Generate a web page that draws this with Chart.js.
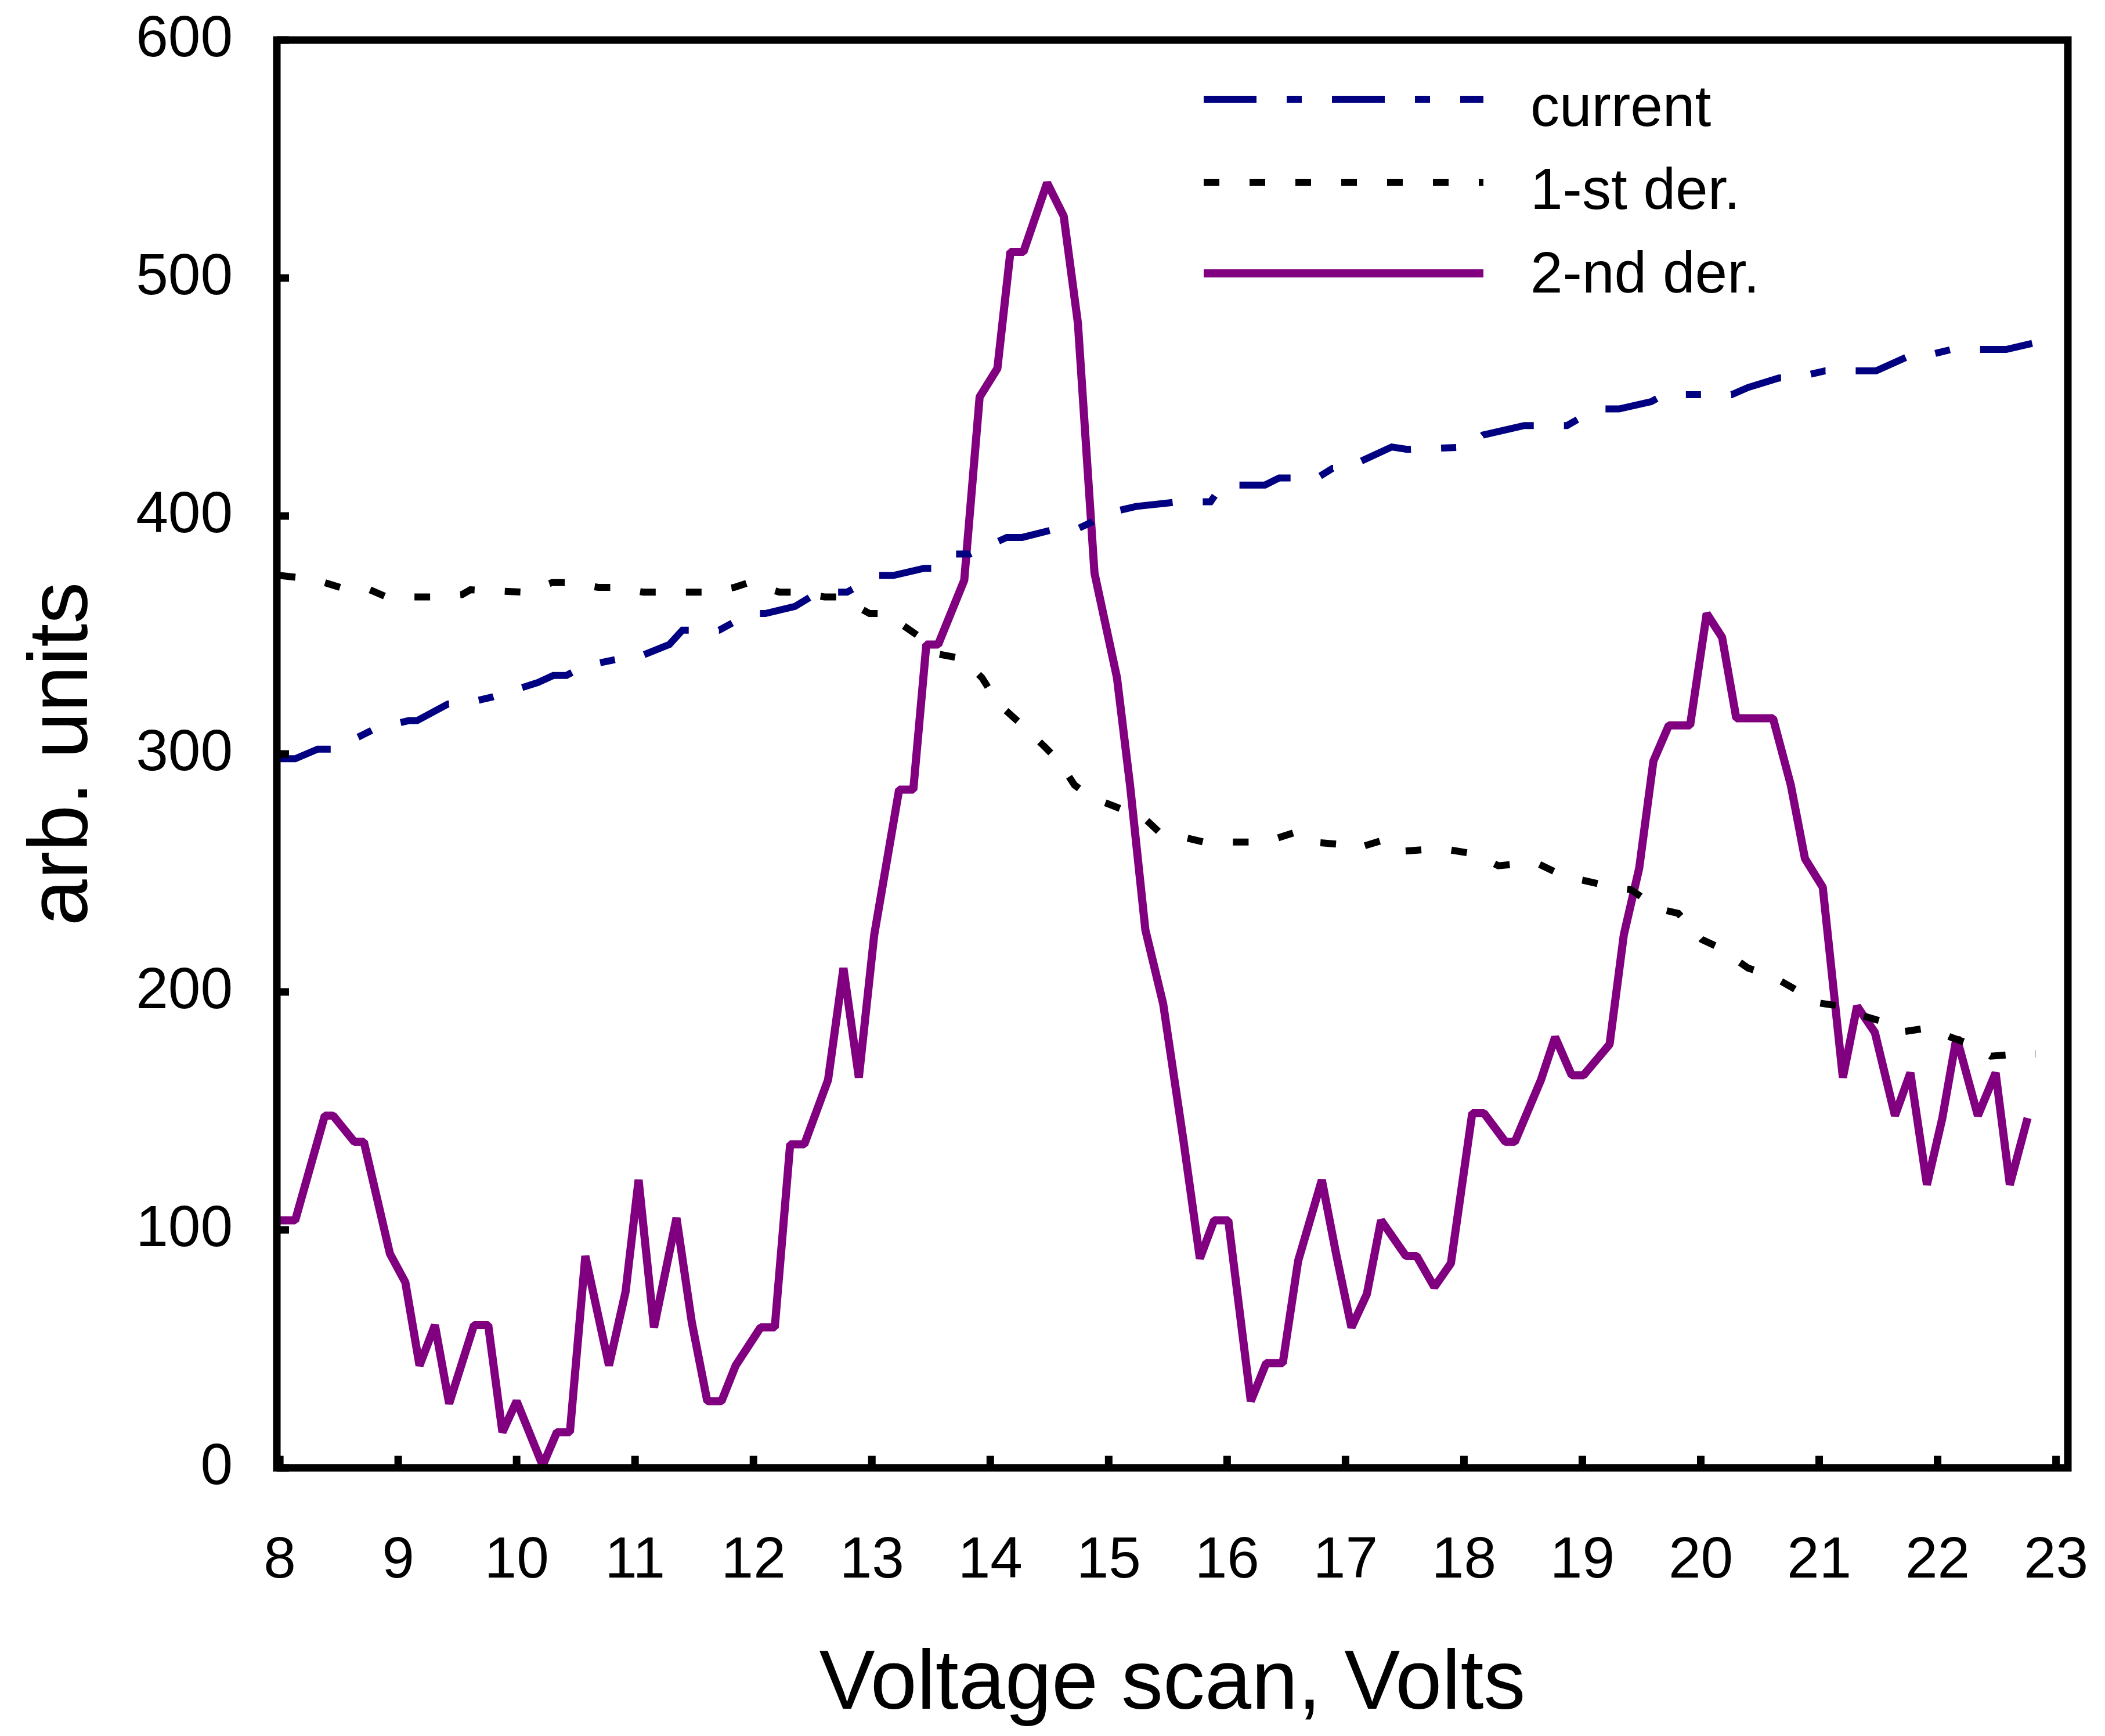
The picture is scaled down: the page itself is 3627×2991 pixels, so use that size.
<!DOCTYPE html>
<html lang="en">
<head>
<meta charset="utf-8">
<title>voltage scan</title>
<style>
  body { margin: 0; background: #fff; }
  canvas { display: block; }
</style>
</head>
<body>
<canvas id="scan" width="3627" height="2991"></canvas>
<script src="https://cdn.jsdelivr.net/npm/chart.js"></script>
<script>
// current
const currentV = [8.00, 8.13, 8.32, 8.45, 8.70, 8.82, 9.09, 9.16, 9.42, 9.54, 9.80, 10.18, 10.31, 10.42,
  10.57, 10.87, 10.99, 11.29, 11.40, 11.71, 11.97, 12.10, 12.35, 12.55, 12.79, 13.05, 13.18, 13.44,
  13.56, 13.70, 13.83, 14.14, 14.27, 14.51, 14.71, 14.84, 14.97, 15.23, 15.60, 15.86, 15.96, 16.32,
  16.44, 16.76, 16.89, 17.02, 17.13, 17.39, 17.52, 18.04, 18.16, 18.51, 18.87, 19.01, 19.19, 19.31,
  19.58, 19.69, 20.26, 20.40, 20.66, 20.79, 21.05, 21.48, 21.75, 21.87, 22.12, 22.58, 22.84, 22.96];
const currentY = [298, 298, 302, 302, 308, 311, 314, 314, 321, 321, 324, 330, 333, 333,
  337, 340, 340, 346, 352, 352, 359, 359, 362, 368, 368, 375, 375, 378,
  378, 384, 384, 391, 391, 394, 394, 397, 401, 404, 406, 406, 413, 413,
  416, 416, 420, 420, 423, 429, 428, 429, 434, 438, 438, 442, 445, 445,
  448, 451, 451, 454, 458, 458, 461, 461, 467, 467, 470, 470, 473, 473];

// 1-st derivative
const der1V = [8.00, 8.18, 8.38, 8.51, 8.76, 8.90, 9.28, 9.54, 9.61, 10.05, 10.30, 10.43, 10.69, 10.82,
  11.07, 11.58, 11.84, 11.96, 12.22, 12.35, 12.60, 12.73, 12.98, 13.12, 13.38, 13.56, 13.77, 13.93,
  14.07, 14.25, 14.46, 14.58, 14.71, 14.84, 15.10, 15.28, 15.43, 15.55, 15.80, 16.32, 16.57, 16.70,
  16.96, 17.07, 17.33, 17.46, 17.72, 17.84, 18.09, 18.29, 18.49, 18.62, 18.87, 19.00, 19.26, 19.41,
  19.64, 19.81, 20.01, 20.14, 20.40, 20.59, 20.80, 20.91, 21.18, 21.30, 21.57, 21.67, 21.94, 22.11,
  22.33, 22.45, 22.70, 22.83];
const der1Y = [375, 374, 372, 370, 369, 366, 366, 367, 369, 368, 372, 372, 370, 370,
  368, 368, 370, 372, 368, 368, 366, 366, 359, 359, 350, 342, 340, 332,
  321, 313, 303, 297, 287, 282, 277, 274, 267, 266, 263, 263, 267, 263,
  262, 260, 264, 259, 260, 260, 258, 253, 254, 254, 248, 247, 244, 243,
  235, 233, 222, 219, 210, 207, 201, 196, 194, 191, 187, 183, 185, 181,
  177, 173, 174, 174];

// 2-nd derivative
const der2V = [8.00, 8.13, 8.38, 8.45, 8.63, 8.71, 8.93, 9.06, 9.18, 9.31, 9.43, 9.64, 9.76, 9.88,
  10.00, 10.22, 10.34, 10.45, 10.58, 10.78, 10.92, 11.03, 11.16, 11.35, 11.48, 11.61, 11.73, 11.85,
  12.06, 12.18, 12.31, 12.43, 12.63, 12.76, 12.89, 13.02, 13.23, 13.35, 13.46, 13.56, 13.78, 13.91,
  14.06, 14.17, 14.28, 14.48, 14.62, 14.74, 14.88, 15.07, 15.18, 15.31, 15.46, 15.63, 15.77, 15.89,
  16.01, 16.20, 16.33, 16.47, 16.60, 16.80, 16.92, 17.05, 17.18, 17.30, 17.51, 17.60, 17.75, 17.89,
  18.07, 18.17, 18.35, 18.43, 18.65, 18.77, 18.91, 19.01, 19.23, 19.35, 19.48, 19.60, 19.73, 19.91,
  20.05, 20.18, 20.30, 20.45, 20.61, 20.76, 20.88, 21.03, 21.20, 21.32, 21.47, 21.64, 21.77, 21.91,
  22.04, 22.16, 22.34, 22.49, 22.61, 22.76];
const der2Y = [104, 104, 148, 148, 137, 137, 90, 78, 43, 60, 27, 60, 60, 15,
  28, 1, 15, 15, 89, 43, 74, 121, 59, 105, 61, 28, 28, 43,
  59, 59, 136, 136, 163, 210, 164, 224, 285, 285, 346, 346, 373, 450,
  462, 511, 511, 540, 526, 481, 376, 332, 287, 226, 195, 138, 88, 104,
  104, 28, 44, 44, 87, 121, 90, 59, 73, 104, 89, 89, 76, 86,
  149, 149, 137, 137, 163, 181, 165, 165, 178, 224, 252, 297, 312, 312,
  359, 349, 315, 315, 315, 287, 256, 244, 164, 194, 183, 148, 166, 119,
  147, 181, 148, 166, 119, 147];

const seriesNames = ['current', '1-st der.', '2-nd der.'];
const xTicks = [8, 9, 10, 11, 12, 13, 14, 15, 16, 17, 18, 19, 20, 21, 22, 23];
const yTicks = [0, 100, 200, 300, 400, 500, 600];

const pts = (xs, ys) => xs.map((v, i) => ({x: v, y: ys[i]}));

Chart.defaults.font.family = '"Liberation Sans", Arial, sans-serif';
Chart.defaults.color = '#000';

// box round the plot, inward tick stubs and the legend block
const frame = {
  id: 'frame',
  afterDatasetsDraw(chart) {
    const {ctx, chartArea: a, scales: {x, y}} = chart;
    ctx.save();
    ctx.strokeStyle = '#000';
    ctx.lineWidth = 13;
    ctx.setLineDash([]);
    ctx.strokeRect(a.left, a.top, a.right - a.left, a.bottom - a.top);
    ctx.beginPath();
    xTicks.forEach(v => {
      const px = x.getPixelForValue(v);
      ctx.moveTo(px, a.bottom);
      ctx.lineTo(px, a.bottom - 21);
    });
    yTicks.forEach(v => {
      const py = y.getPixelForValue(v);
      ctx.moveTo(a.left, py);
      ctx.lineTo(a.left + 21, py);
    });
    ctx.stroke();

    const rows = [171, 314, 471];
    const base = [217, 360, 504];
    chart.data.datasets.forEach((ds, i) => {
      ctx.beginPath();
      ctx.lineCap = 'butt';
      ctx.strokeStyle = ds.borderColor;
      ctx.lineWidth = ds.borderWidth;
      ctx.setLineDash(ds.borderDash || []);
      ctx.moveTo(2074, rows[i]);
      ctx.lineTo(2556, rows[i]);
      ctx.stroke();
      ctx.setLineDash([]);
      ctx.fillStyle = '#000';
      ctx.font = '100px "Liberation Sans", Arial, sans-serif';
      ctx.textBaseline = 'alphabetic';
      ctx.fillText(ds.label, 2637, base[i]);
    });
    ctx.restore();
  }
};

new Chart(document.getElementById('scan'), {
  type: 'line',
  data: {
    datasets: [{
      label: seriesNames[0],
      data: pts(currentV, currentY),
      borderColor: '#000080',
      borderWidth: 12,
      borderDash: [91, 52, 26, 52],
      pointRadius: 0,
      tension: 0
    }, {
      label: seriesNames[1],
      data: pts(der1V, der1Y),
      borderColor: '#000000',
      borderWidth: 12,
      borderDash: [27, 52],
      pointRadius: 0,
      tension: 0
    }, {
      label: seriesNames[2],
      data: pts(der2V, der2Y),
      borderColor: '#800080',
      borderWidth: 14,
      borderJoinStyle: 'bevel',
      pointRadius: 0,
      tension: 0
    }]
  },
  options: {
    responsive: false,
    animation: false,
    devicePixelRatio: 1,
    layout: {padding: {left: 0, right: 64, top: 69, bottom: 0}},
    plugins: {legend: {display: false}, tooltip: {enabled: false}},
    scales: {
      x: {
        type: 'linear',
        min: 7.975,
        max: 23.1,
        grid: {display: false},
        border: {display: false},
        afterBuildTicks: axis => { axis.ticks = xTicks.map(v => ({value: v})); },
        afterFit: axis => {
          axis.height = 462;
          axis.paddingLeft = 0;
          axis.paddingRight = 0;
        },
        ticks: {font: {size: 100}, padding: 93, maxRotation: 0, autoSkip: false},
        title: {display: true, text: 'Voltage scan, Volts', font: {size: 144}, padding: {top: 0, bottom: 0}}
      },
      y: {
        min: 0,
        max: 600,
        grid: {display: false},
        border: {display: false},
        afterBuildTicks: axis => { axis.ticks = yTicks.map(v => ({value: v})); },
        afterFit: axis => {
          axis.width = 477;
          axis.paddingTop = 0;
          axis.paddingBottom = 0;
        },
        ticks: {font: {size: 100}, padding: 68},
        title: {display: true, text: 'arb. units', font: {size: 144}, padding: {top: 24, bottom: 0}}
      }
    }
  },
  plugins: [frame]
});
</script>
</body>
</html>
